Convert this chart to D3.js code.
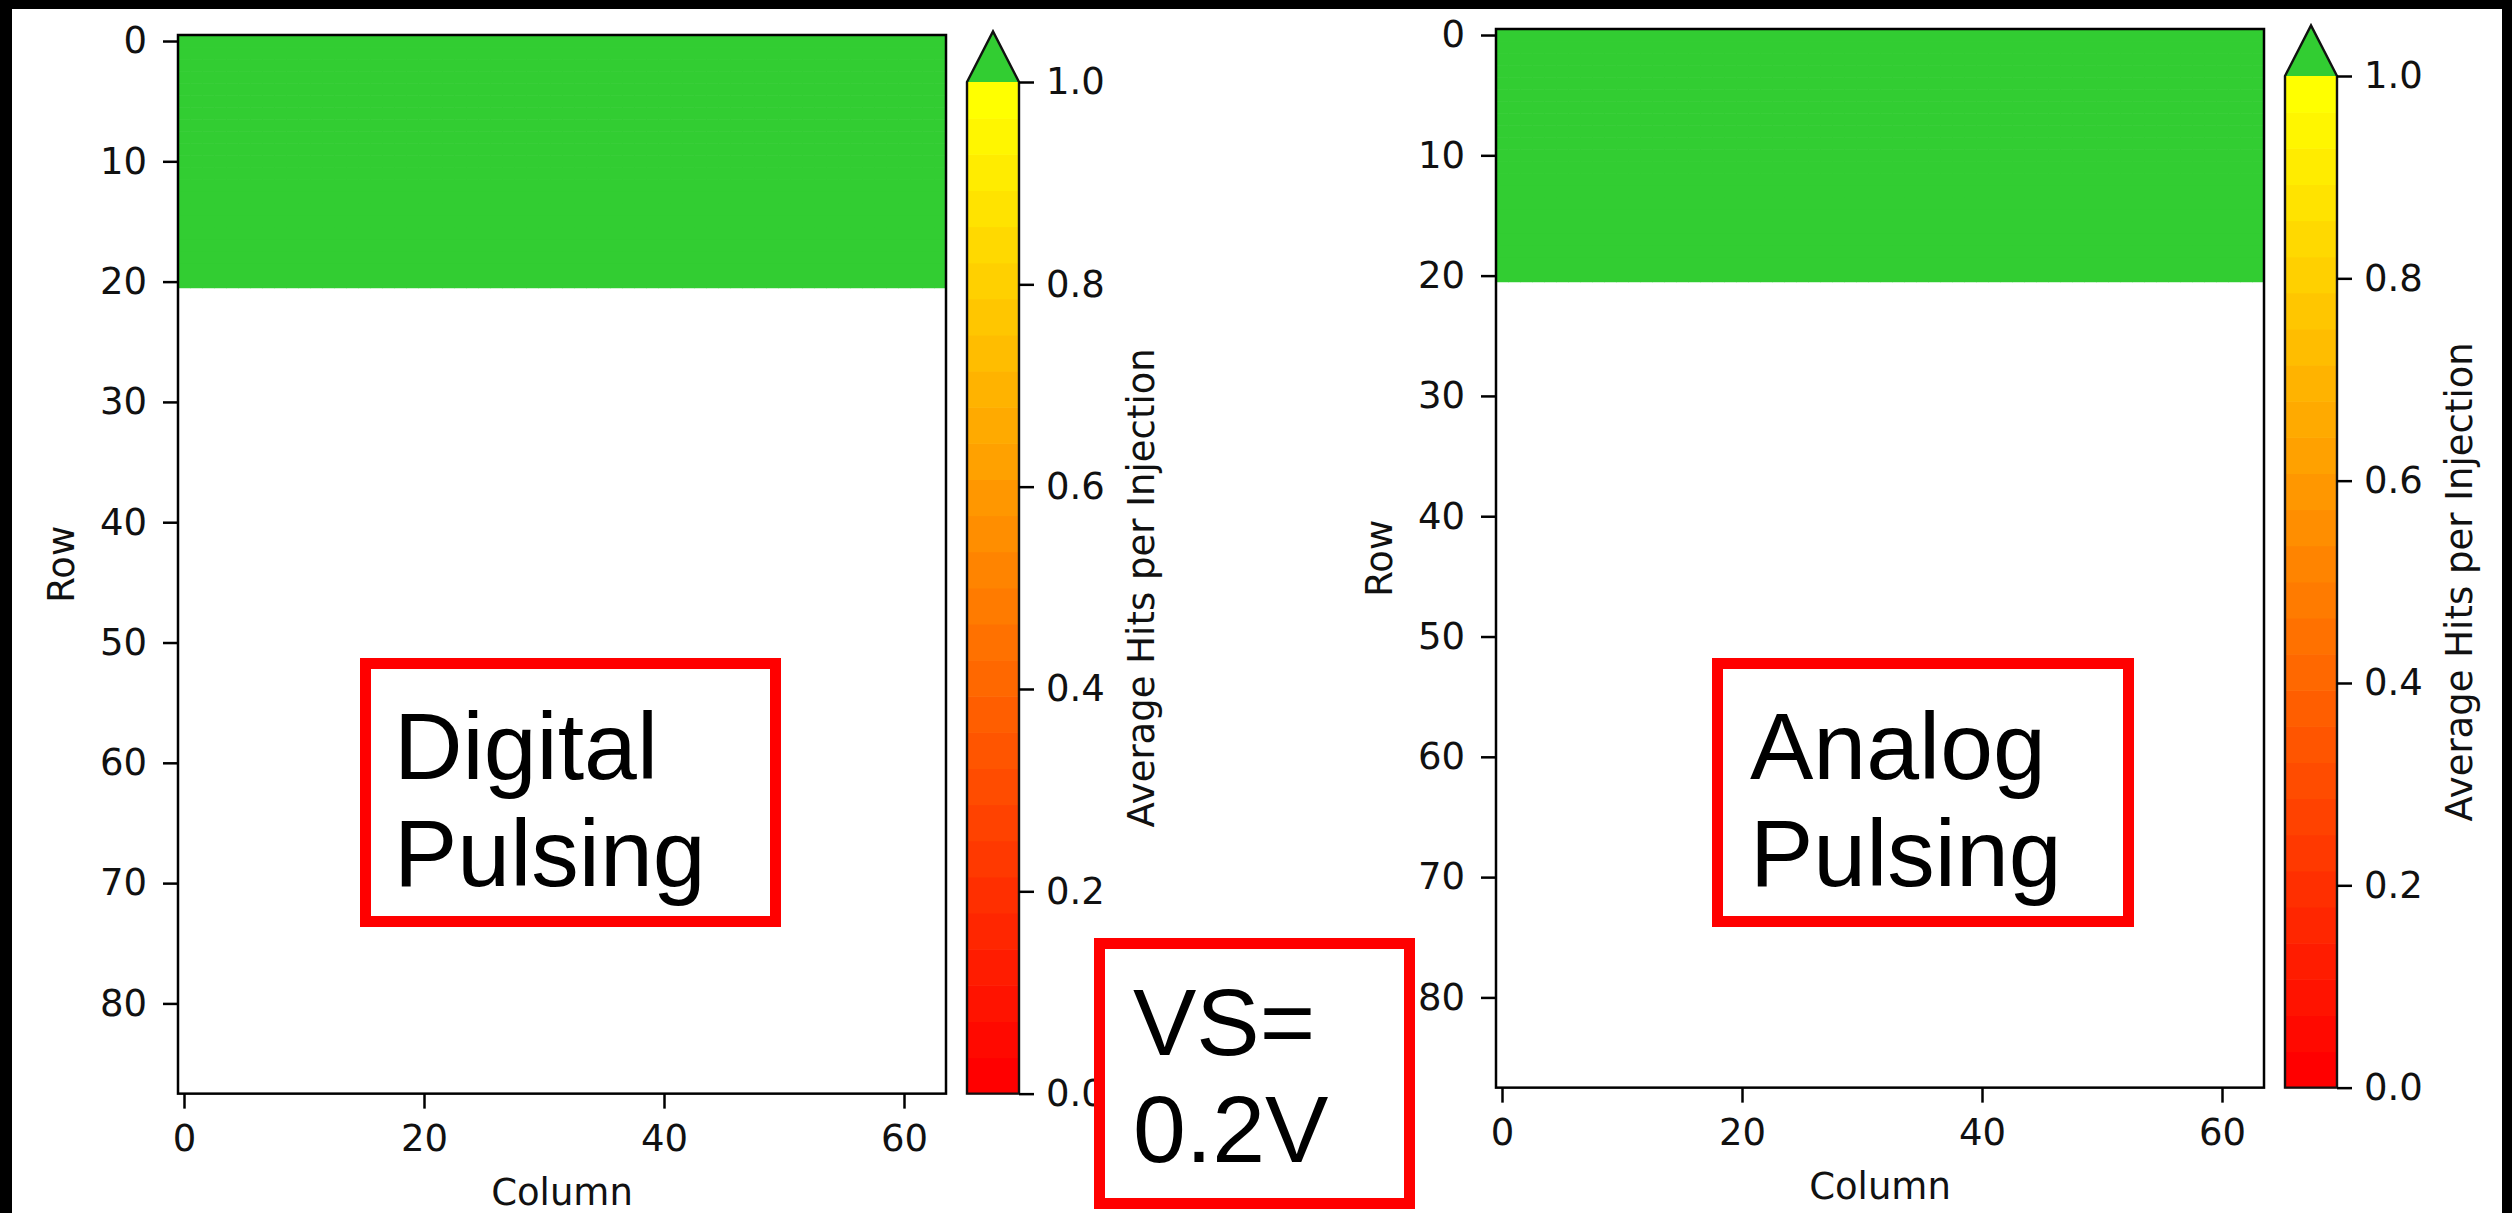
<!DOCTYPE html>
<html>
<head>
<meta charset="utf-8">
<script src="https://cdn.jsdelivr.net/npm/d3@7"></script>
<style>
  html, body { margin: 0; padding: 0; background: #000; }
  svg { display: block; }
</style>
</head>
<body>
<svg id="chart" width="2512" height="1213"></svg>
<script>
// ---- data ----
const nColumns = 64;
const nRows = 88;
const panelNames = ["Digital Pulsing", "Analog Pulsing"];
const panelLabelLines = [["Digital", "Pulsing"], ["Analog", "Pulsing"]];
const hitFirstRow = [0, 0];        // first row that responded
const hitLastRow = [20, 20];       // last row that responded
const hitValue = [1.5, 1.5];       // average hits per injection in those rows (above colour range)
const rowTicks = [0, 10, 20, 30, 40, 50, 60, 70, 80];
const columnTicks = [0, 20, 40, 60];
const colorbarTicks = [0, 0.2, 0.4, 0.6, 0.8, 1.0];
const colorLevels = 28;
const vsNoteLines = ["VS=", "0.2V"];

// ---- layout ----
const W = 2512, H = 1213;
const panelLayout = [
  { x: 178, y: 35, cbX: 967, cbTop: 82, box: { x0: 360, y0: 658, x1: 781, y1: 927 }, textX: 394 },
  { x: 1496, y: 29, cbX: 2285, cbTop: 76, box: { x0: 1712, y0: 658, x1: 2134, y1: 927 }, textX: 1750 }
];
const cellPx = 12.03;
const plotW = 768, plotH = nRows * cellPx;
const cbW = 52;
const tickFont = "'DejaVu Sans', sans-serif";
const noteFont = "Helvetica, Arial, 'Liberation Sans', sans-serif";
const overColor = "limegreen";

const svg = d3.select("#chart");

// page frame
svg.append("rect").attr("x", 0).attr("y", 0).attr("width", W).attr("height", H).attr("fill", "#000");
svg.append("rect").attr("x", 12).attr("y", 9).attr("width", 2502 - 12).attr("height", H - 9).attr("fill", "#fff");

// discretised red→yellow colour map, with an over colour above 1
function levelColor(i) {
  const t = i / (colorLevels - 1);
  return d3.rgb(255, Math.round(255 * t), 0).formatHex();
}
function valueColor(v) {
  if (v == null || Number.isNaN(v)) return null;
  if (v > 1) return overColor;
  const i = Math.min(colorLevels - 1, Math.max(0, Math.floor(v * colorLevels)));
  return levelColor(i);
}

function styleAxis(g) {
  g.select(".domain").remove();
  g.selectAll(".tick line").attr("stroke", "#000").attr("stroke-width", 2.5);
  g.selectAll(".tick text").attr("fill", "#111").style("font-family", tickFont).style("font-size", "37px");
}

panelNames.forEach((name, p) => {
  const L = panelLayout[p];
  const x = d3.scaleLinear().domain([-0.5, nColumns - 0.5]).range([L.x, L.x + plotW]);
  const y = d3.scaleLinear().domain([-0.5, nRows - 0.5]).range([L.y, L.y + plotH]);

  // pixel cells
  const cells = [];
  for (let r = 0; r < nRows; r++) {
    for (let c = 0; c < nColumns; c++) {
      const v = (r >= hitFirstRow[p] && r <= hitLastRow[p]) ? hitValue[p] : NaN;
      if (!Number.isNaN(v)) cells.push({ r, c, v });
    }
  }
  const g = svg.append("g").attr("class", "panel").attr("data-name", name);
  g.append("g").selectAll("rect").data(cells).join("rect")
    .attr("x", d => x(d.c - 0.5))
    .attr("y", d => y(d.r - 0.5))
    .attr("width", d => x(d.c + 0.5) - x(d.c - 0.5) + 0.6)
    .attr("height", d => y(d.r + 0.5) - y(d.r - 0.5) + 0.6)
    .attr("fill", d => valueColor(d.v));

  // axes
  const plotBottom = y(nRows - 0.5);
  g.append("g").attr("transform", `translate(${L.x},0)`)
    .call(d3.axisLeft(y).tickValues(rowTicks).tickFormat(d3.format("d")).tickSize(15).tickPadding(16))
    .call(styleAxis);
  g.append("g").attr("transform", `translate(0,${plotBottom})`)
    .call(d3.axisBottom(x).tickValues(columnTicks).tickFormat(d3.format("d")).tickSize(15).tickPadding(16))
    .call(styleAxis);
  g.append("rect")
    .attr("x", x(-0.5)).attr("y", y(-0.5))
    .attr("width", x(nColumns - 0.5) - x(-0.5)).attr("height", plotBottom - y(-0.5))
    .attr("fill", "none").attr("stroke", "#000").attr("stroke-width", 2.5);

  g.append("text").text("Column")
    .attr("x", (x(-0.5) + x(nColumns - 0.5)) / 2).attr("y", plotBottom + 111)
    .attr("text-anchor", "middle").attr("fill", "#111")
    .style("font-family", tickFont).style("font-size", "37px");
  g.append("text").text("Row")
    .attr("transform", `translate(${L.x - 117},${(y(-0.5) + plotBottom) / 2}) rotate(-90)`)
    .attr("text-anchor", "middle").attr("dominant-baseline", "central").attr("fill", "#111")
    .style("font-family", tickFont).style("font-size", "37px");

  // colour bar
  const cb = d3.scaleLinear().domain([0, 1]).range([plotBottom, L.cbTop]);
  const bands = d3.range(colorLevels);
  g.append("g").selectAll("rect").data(bands).join("rect")
    .attr("x", L.cbX).attr("width", cbW)
    .attr("y", i => cb((i + 1) / colorLevels))
    .attr("height", i => cb(i / colorLevels) - cb((i + 1) / colorLevels) + 0.6)
    .attr("fill", i => levelColor(i));
  const cbLen = cb(0) - cb(1);
  const apexY = cb(1) - 0.05 * cbLen;
  g.append("path")
    .attr("d", `M${L.cbX},${cb(1)}L${L.cbX + cbW / 2},${apexY}L${L.cbX + cbW},${cb(1)}Z`)
    .attr("fill", overColor);
  g.append("path")
    .attr("d", `M${L.cbX},${cb(0)}L${L.cbX},${cb(1)}L${L.cbX + cbW / 2},${apexY}L${L.cbX + cbW},${cb(1)}L${L.cbX + cbW},${cb(0)}Z`)
    .attr("fill", "none").attr("stroke", "#111").attr("stroke-width", 2.4).attr("stroke-linejoin", "miter");
  g.append("g").attr("transform", `translate(${L.cbX + cbW},0)`)
    .call(d3.axisRight(cb).tickValues(colorbarTicks).tickFormat(d3.format(".1f")).tickSize(15).tickPadding(12))
    .call(styleAxis);
  g.append("text").text("Average Hits per Injection")
    .attr("transform", `translate(${L.cbX + cbW + 122},${(cb(0) + cb(1)) / 2}) rotate(-90)`)
    .attr("text-anchor", "middle").attr("dominant-baseline", "central").attr("fill", "#111")
    .style("font-family", tickFont).style("font-size", "37px");

  // panel caption in a red frame
  const b = L.box;
  g.append("rect")
    .attr("x", b.x0 + 5.5).attr("y", b.y0 + 5.5)
    .attr("width", b.x1 - b.x0 - 11).attr("height", b.y1 - b.y0 - 11)
    .attr("fill", "#fff").attr("stroke", "#ff0000").attr("stroke-width", 11);
  const lines = panelLabelLines[p];
  lines.forEach((t, k) => {
    g.append("text").text(t)
      .attr("x", L.textX).attr("y", b.y0 + 121 + k * 107)
      .attr("fill", "#000")
      .style("font-family", noteFont).style("font-size", "95px");
  });
});

// supply-voltage note between the panels
const vsBox = { x0: 1094, y0: 938, x1: 1415, y1: 1209 };
svg.append("rect")
  .attr("x", vsBox.x0 + 5.5).attr("y", vsBox.y0 + 5.5)
  .attr("width", vsBox.x1 - vsBox.x0 - 11).attr("height", vsBox.y1 - vsBox.y0 - 11)
  .attr("fill", "#fff").attr("stroke", "#ff0000").attr("stroke-width", 11);
vsNoteLines.forEach((t, k) => {
  svg.append("text").text(t)
    .attr("x", 1133).attr("y", vsBox.y0 + 117 + k * 107)
    .attr("fill", "#000")
    .style("font-family", noteFont).style("font-size", "95px");
});
</script>
</body>
</html>
